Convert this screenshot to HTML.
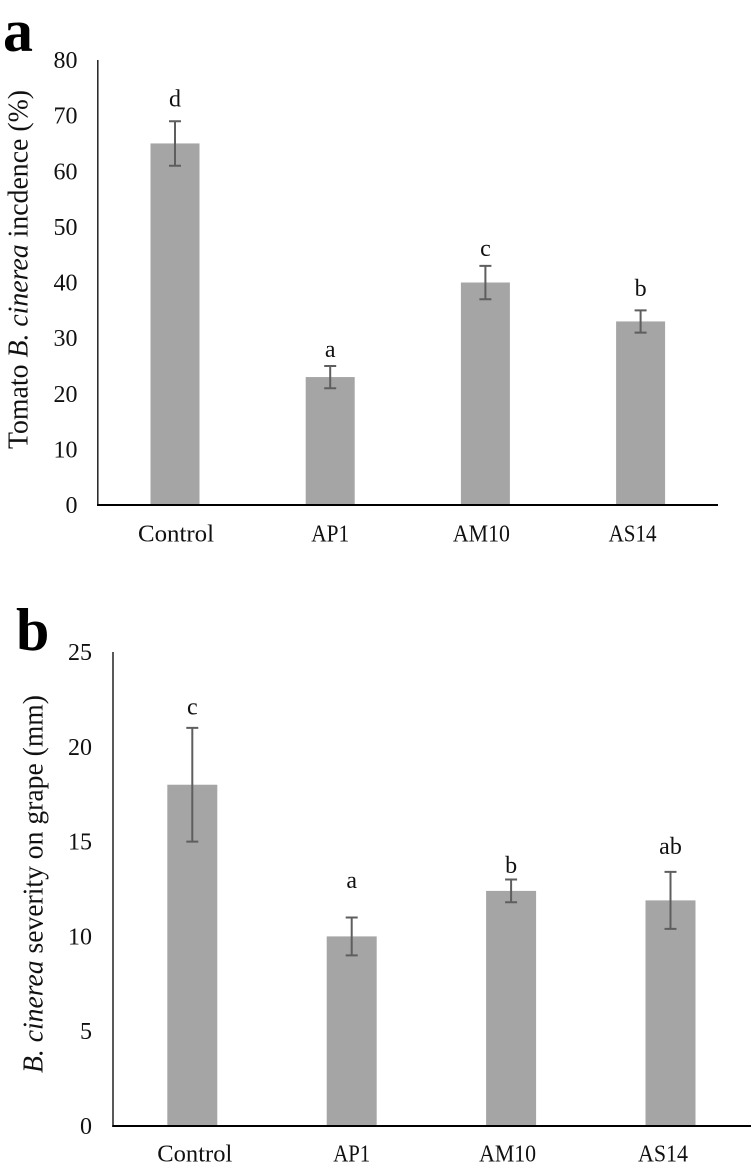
<!DOCTYPE html>
<html>
<head>
<meta charset="utf-8">
<title>B. cinerea charts</title>
<style>
html,body{margin:0;padding:0;background:#fff;}
svg{display:block;font-family:"Liberation Serif",serif;}
</style>
</head>
<body>
<svg id="chart" width="751" height="1169" viewBox="0 0 751 1169" xmlns="http://www.w3.org/2000/svg">
<text x="3" y="51" font-size="60" font-weight="bold">a</text>
<text x="16" y="650" font-size="60" font-weight="bold">b</text>
<text transform="translate(27.5,269.5) rotate(-90)" text-anchor="middle" font-size="28" textLength="359" lengthAdjust="spacingAndGlyphs" fill="#111">Tomato <tspan font-style="italic">B. cinerea</tspan> incdence (%)</text>
<text transform="translate(42.5,884) rotate(-90)" text-anchor="middle" font-size="28" textLength="378" lengthAdjust="spacingAndGlyphs" fill="#111"><tspan font-style="italic">B. cinerea</tspan> severity on grape (mm)</text>
</svg>
<script>
var categories = ['Control', 'AP1', 'AM10', 'AS14'];

var ticksA = [0, 10, 20, 30, 40, 50, 60, 70, 80];
var valuesA = [65, 23, 40, 33];
var errHighA = [69, 25, 43, 35];
var errLowA = [61, 21, 37, 31];
var lettersA = ['d', 'a', 'c', 'b'];
var letterLevelA = [71.6, 26.6, 44.8, 37.6];

var ticksB = [0, 5, 10, 15, 20, 25];
var valuesB = [18, 10, 12.4, 11.9];
var errHighB = [21, 11, 13, 13.4];
var errLowB = [15, 9, 11.8, 10.4];
var lettersB = ['c', 'a', 'b', 'ab'];
var letterLevelB = [21.7, 12.55, 13.35, 14.35];

var svg = document.getElementById('chart');
var NS = 'http://www.w3.org/2000/svg';

function make(tag, attrs, text) {
  var el = document.createElementNS(NS, tag);
  for (var k in attrs) el.setAttribute(k, attrs[k]);
  if (text !== undefined) el.textContent = text;
  svg.appendChild(el);
  return el;
}

function drawPanel(p) {
  var yScale = function (v) {
    return p.y0 + (p.yTop - p.y0) * v / p.yMax;
  };
  var xScale = function (i) {
    return p.xFirst + p.xStep * i;
  };

  p.values.forEach(function (v, i) {
    var bar = make('rect', {
      x: xScale(i) - p.barW / 2, y: yScale(v),
      width: p.barW, height: p.y0 - yScale(v), fill: '#a5a5a5'
    });
    
    
  });

  var yAxis = make('line', {
    x1: p.axisX, x2: p.axisX, y1: p.yTop, y2: p.y0 + 1, stroke: '#222', 'stroke-width': 1.5
  });
  
  

  var xAxis = make('line', {
    x1: p.axisX - 0.7, x2: p.axisEnd, y1: p.y0, y2: p.y0, stroke: '#000', 'stroke-width': 2
  });
  
  

  p.ticks.forEach(function (t) {
    var label = make('text', {
      x: p.tickX, y: yScale(t) + 8, 'text-anchor': 'end', 'font-size': 24, fill: '#111'
    }, String(t));
    
    
  });

  p.values.forEach(function (v, i) {
    var x = xScale(i);
    var top = yScale(p.errHigh[i]);
    var low = yScale(p.errLow[i]);
    var err = make('path', {
      d: 'M' + (x - 6) + ' ' + top + 'H' + (x + 6) + 'M' + x + ' ' + top + 'V' + low + 'M' + (x - 6) + ' ' + low + 'H' + (x + 6),
      fill: 'none', stroke: '#5e5e5e', 'stroke-width': 2
    });
    
    

    var letter = make('text', {
      x: x, y: yScale(p.letterLevel[i]), 'text-anchor': 'middle', 'font-size': 24, fill: '#111'
    }, p.letters[i]);
    
    

    var cat = make('text', {
      x: x + p.labelNudge[i], y: p.catY, 'text-anchor': 'middle', 'font-size': 24, fill: '#111',
      textLength: p.labelWidth[i], lengthAdjust: 'spacingAndGlyphs'
    }, categories[i]);
    
    
  });
}

drawPanel({
  id: 'a', y0: 505, yTop: 60, yMax: 80, axisX: 97.8, axisEnd: 718,
  xFirst: 175, xStep: 155.2, barW: 49, tickX: 77.5, catY: 541.5,
  labelNudge: [1, 0, -4, -8], labelWidth: [76, 38, 57, 48],
  ticks: ticksA, values: valuesA, errHigh: errHighA, errLow: errLowA,
  letters: lettersA, letterLevel: letterLevelA
});

drawPanel({
  id: 'b', y0: 1126, yTop: 652, yMax: 25, axisX: 113, axisEnd: 751,
  xFirst: 192.3, xStep: 159.4, barW: 50, tickX: 92, catY: 1161.5,
  labelNudge: [2.5, 0, -3.5, -7.5], labelWidth: [75, 37, 57, 50],
  ticks: ticksB, values: valuesB, errHigh: errHighB, errLow: errLowB,
  letters: lettersB, letterLevel: letterLevelB
});
</script>
</body>
</html>
